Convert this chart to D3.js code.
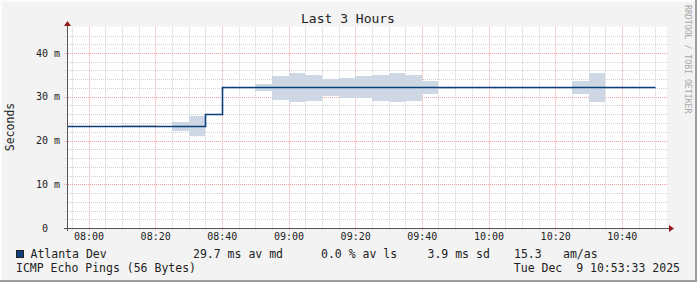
<!DOCTYPE html>
<html><head><meta charset="utf-8">
<script src="https://cdn.jsdelivr.net/npm/d3@7"></script>
<style>
html,body{margin:0;padding:0;background:#f3f3f3;}
svg text{font-family:"DejaVu Sans Mono",monospace;white-space:pre;}
</style></head>
<body>
<svg id="c" width="697" height="282"></svg>
<script>
// ---- data ----
const title = "Last 3 Hours";
const yTitle = "Seconds";
const sideText = "RRDTOOL / TOBI OETIKER";
const startTime = "2025-12-09T07:53:33Z";
const endTime = "2025-12-09T10:53:33Z";
const intervalStarts = ["07:50","07:55","08:00","08:05","08:10","08:15","08:20","08:25","08:30","08:35",
  "08:40","08:45","08:50","08:55","09:00","09:05","09:10","09:15","09:20","09:25",
  "09:30","09:35","09:40","09:45","09:50","09:55","10:00","10:05","10:10","10:15",
  "10:20","10:25","10:30","10:35","10:40","10:45","10:50"];
const medianMs = [23.3,23.3,23.3,23.3,23.3,23.3,23.3,23.3,23.3,26.05,
  32.15,32.15,32.15,32.15,32.15,32.15,32.15,32.15,32.15,32.15,
  32.15,32.15,32.15,32.15,32.15,32.15,32.15,32.15,32.15,32.15,
  32.15,32.15,32.15,32.15,32.15,32.15,32.15];
const smokeLo = [null,null,null,null,23.2,23.0,null,22.2,21.1,null,
  null,null,31.4,29.3,28.9,29.1,30.2,29.8,29.6,29.1,
  28.9,29.1,30.6,31.8,null,null,null,null,null,null,
  null,30.7,28.9,null,null,null,null];
const smokeHi = [null,null,null,null,23.6,23.5,null,24.2,25.7,null,
  null,null,32.9,34.7,35.4,35.0,34.1,34.3,34.7,35.0,
  35.4,35.0,33.5,32.2,null,null,null,null,null,null,
  null,33.7,35.4,null,null,null,null];
const yTicks = [0,10,20,30,40];
const yTickLabels = ["0  ","10 m","20 m","30 m","40 m"];
const xTickLabels = ["08:00","08:20","08:40","09:00","09:20","09:40","10:00","10:20","10:40"];
const legendName = "Atlanta Dev";
const legendStats = ["29.7 ms av md","0.0 % av ls","3.9 ms sd","15.3","am/as"];
const footerLeft = "ICMP Echo Pings (56 Bytes)";
const footerRight = "Tue Dec  9 10:53:33 2025";

// ---- setup ----
const svg = d3.select("#c");
const W = 697, H = 282;
const day = "2025-12-09T";
const t = s => new Date(day + s + ":00Z");
const x = d3.scaleUtc().domain([new Date(startTime), new Date(endTime)]).range([67, 667]);
const y = d3.scaleLinear().domain([0, 46]).range([228, 26.75]);
const px = v => Math.round(v) + 0.5;

// background + frame
svg.append("rect").attr("width", W).attr("height", H).attr("fill", "#f3f3f3");
svg.append("path").attr("d", `M1,${H} V1 H${W}`).attr("stroke", "#fcfcfc").attr("stroke-width", 2).attr("fill", "none");
svg.append("path").attr("d", `M0,${H-1} H${W-1} V0`).attr("stroke", "#9d9d9d").attr("stroke-width", 2).attr("fill", "none");

// plot area
svg.append("rect").attr("x", x.range()[0]).attr("y", y(46)).attr("width", x.range()[1] - x.range()[0])
  .attr("height", y(0) - y(46)).attr("fill", "#ffffff");

const g = svg.append("g");
// minor grid
const minorX = d3.utcMinute.every(5).range(x.domain()[0], x.domain()[1]);
const majorX = d3.utcMinute.every(20).range(x.domain()[0], x.domain()[1]);
const minorY = d3.range(0, 46, 2);
g.selectAll(".mx").data(minorX.filter(d => d.getUTCMinutes() % 20 !== 0)).join("line")
  .attr("x1", d => px(x(d))).attr("x2", d => px(x(d))).attr("y1", y(46)).attr("y2", y(0) + 2)
  .attr("stroke", "#cfcfcf").attr("stroke-dasharray", "1,1");
g.selectAll(".my").data(minorY.filter(v => v % 10 !== 0)).join("line")
  .attr("x1", x.range()[0] - 2).attr("x2", x.range()[1] + 1).attr("y1", d => px(y(d))).attr("y2", d => px(y(d)))
  .attr("stroke", "#cfcfcf").attr("stroke-dasharray", "1,1");
// major grid
g.selectAll(".Mx").data(majorX).join("line")
  .attr("x1", d => px(x(d))).attr("x2", d => px(x(d))).attr("y1", y(46)).attr("y2", y(0) + 3)
  .attr("stroke", "#f2a0a0").attr("stroke-dasharray", "1,1");
g.selectAll(".My").data(yTicks.filter(v => v > 0)).join("line")
  .attr("x1", x.range()[0] - 3).attr("x2", x.range()[1] + 1).attr("y1", d => px(y(d))).attr("y2", d => px(y(d)))
  .attr("stroke", "#f2a0a0").attr("stroke-dasharray", "1,1");

// clip
svg.append("clipPath").attr("id", "clip").append("rect")
  .attr("x", x.range()[0]).attr("y", y(46)).attr("width", x.range()[1] - x.range()[0]).attr("height", y(0) - y(46));

// smoke
const smoke = intervalStarts.slice(0, -1).map((s, i) => ({t0: t(s), t1: t(intervalStarts[i + 1]), lo: smokeLo[i], hi: smokeHi[i]}))
  .filter(d => d.lo !== null);
svg.append("g").attr("clip-path", "url(#clip)").selectAll("rect").data(smoke).join("rect")
  .attr("x", d => Math.round(x(d.t0))).attr("width", d => Math.round(x(d.t1)) - Math.round(x(d.t0)))
  .attr("y", d => Math.round(y(d.hi))).attr("height", d => Math.round(y(d.lo)) - Math.round(y(d.hi)))
  .attr("fill", "#cdd8e4");

// median step line
const lineData = intervalStarts.map((s, i) => ({t: t(s), v: medianMs[i]}));
svg.append("path").attr("clip-path", "url(#clip)").datum(lineData)
  .attr("d", d3.line().x(d => Math.round(x(d.t)) + 0.5).y(d => Math.round(y(d.v)) + 0.5).curve(d3.curveStepAfter))
  .attr("fill", "none").attr("stroke", "#0b3f7c").attr("stroke-width", 1.6);

// axes lines
svg.append("line").attr("x1", 64).attr("x2", 670).attr("y1", px(y(0))).attr("y2", px(y(0))).attr("stroke", "#555");
svg.append("line").attr("x1", px(x.range()[0])).attr("x2", px(x.range()[0])).attr("y1", y(0) + 3).attr("y2", 24).attr("stroke", "#555");
svg.append("path").attr("d", `M669,${px(y(0)) - 3.5} L674,${px(y(0))} L669,${px(y(0)) + 3.5} Z`).attr("fill", "#8e1b1b");
svg.append("path").attr("d", `M${px(x.range()[0]) - 3.5},26 L${px(x.range()[0])},21 L${px(x.range()[0]) + 3.5},26 Z`).attr("fill", "#8e1b1b");

// y labels
svg.selectAll(".yl").data(yTicks).join("text")
  .attr("x", 60).attr("y", d => y(d) + 3.5).attr("text-anchor", "end")
  .attr("font-size", 10).attr("fill", "#222").text((d, i) => yTickLabels[i]);

// x labels via axis
const xa = d3.axisBottom(x).tickValues(xTickLabels.map(t)).tickFormat((d, i) => xTickLabels[i]).tickSize(0).tickPadding(0);
const xg = svg.append("g").attr("transform", "translate(0,233)").call(xa);
xg.select(".domain").remove();
xg.selectAll("text").attr("font-family", "DejaVu Sans Mono").attr("font-size", 10).attr("fill", "#222").attr("dy", "0.71em");

// titles
svg.append("text").attr("x", 348).attr("y", 23).attr("text-anchor", "middle").attr("font-size", 13).attr("fill", "#222").text(title);
svg.append("text").attr("transform", "translate(14,127) rotate(-90)").attr("text-anchor", "middle")
  .attr("font-size", 11.5).attr("fill", "#222").text(yTitle);
svg.append("text").attr("transform", "translate(685,5) rotate(90)").attr("text-anchor", "start")
  .attr("font-size", 8.2).attr("fill", "#a8a8a8").text(sideText);

// legend
svg.append("rect").attr("x", 16.5).attr("y", 250.5).attr("width", 7).attr("height", 7)
  .attr("fill", "#0b3f7c").attr("stroke", "#222");
svg.append("text").attr("x", 30.5).attr("y", 258).attr("font-size", 11.5).attr("fill", "#222").text(legendName);
const statX = [193, 321, 427.5, 514, 563];
svg.selectAll(".ls").data(legendStats).join("text").attr("x", (d, i) => statX[i]).attr("y", 258)
  .attr("font-size", 11.5).attr("fill", "#222").text(d => d);
svg.append("text").attr("x", 16).attr("y", 272).attr("font-size", 11.5).attr("fill", "#222").text(footerLeft);
svg.append("text").attr("x", 680).attr("y", 272).attr("text-anchor", "end").attr("font-size", 11.5).attr("fill", "#222").text(footerRight);
</script>
</body></html>
